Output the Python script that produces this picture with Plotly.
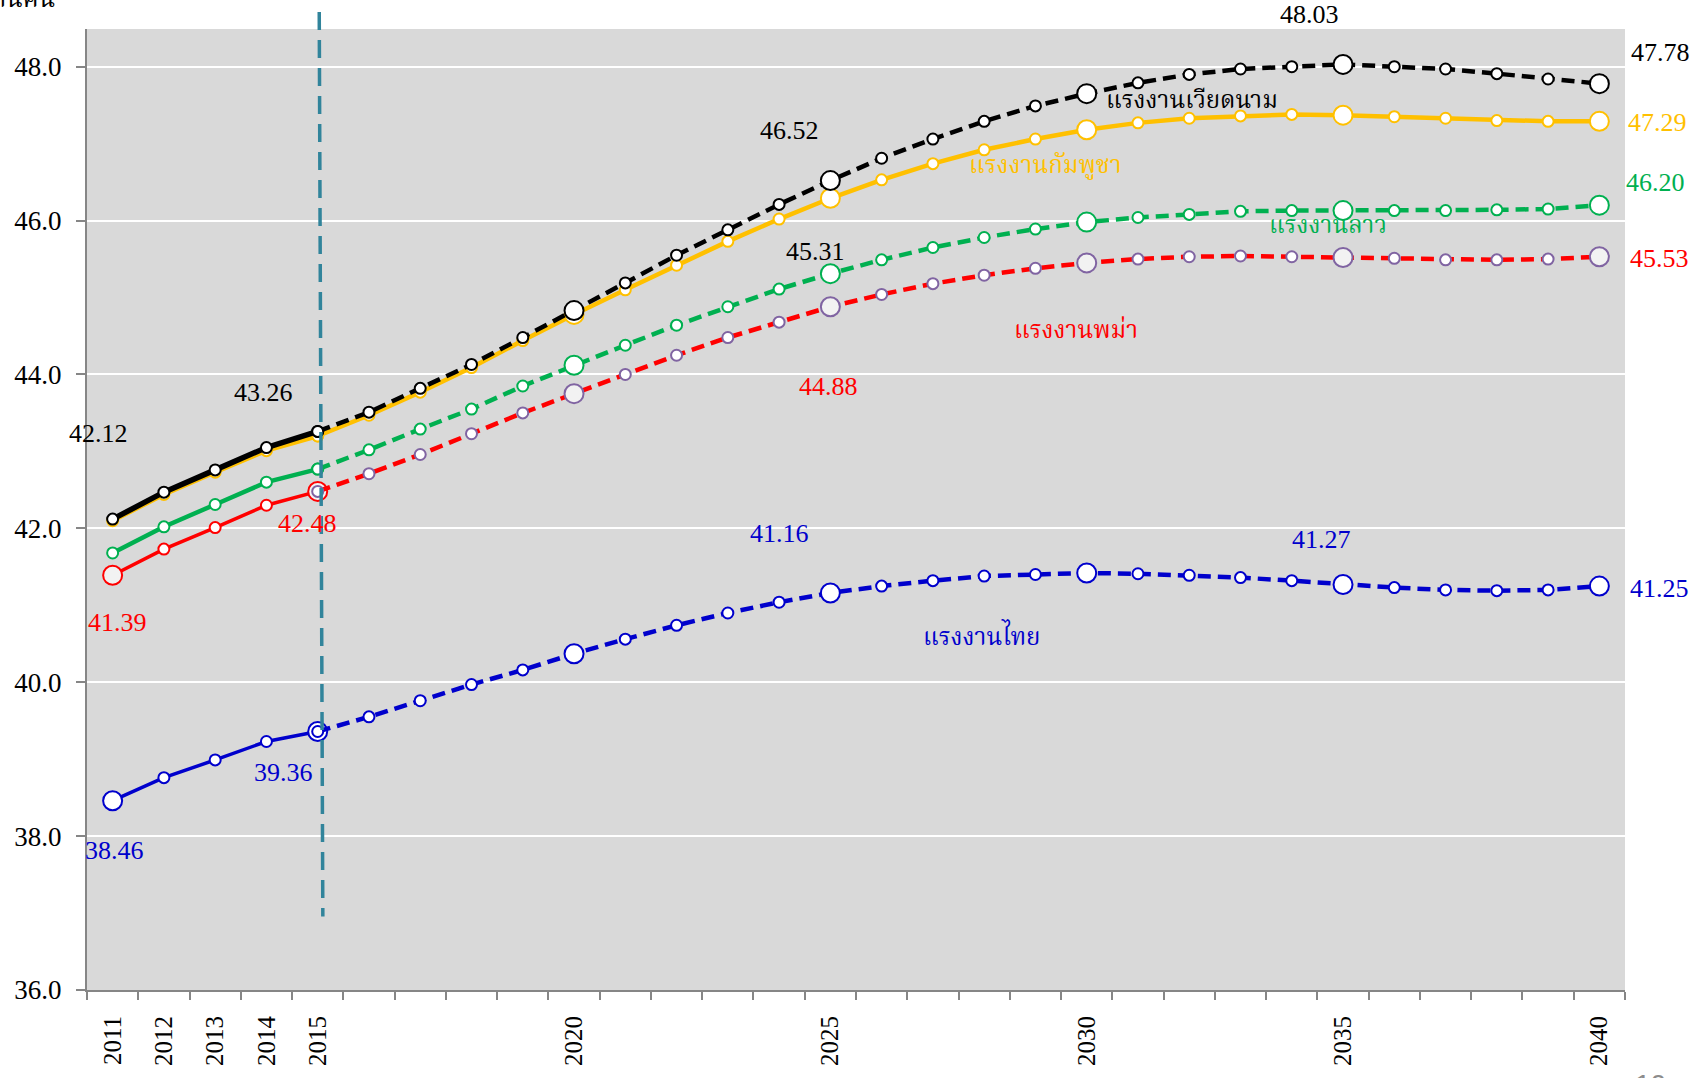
import plotly.graph_objects as go

# ---------------- data ----------------
years = list(range(2011, 2041))
year_ticks = [2011, 2012, 2013, 2014, 2015, 2020, 2025, 2030, 2035, 2040]
base_year = 2015

vietnam = [42.12, 42.47, 42.76, 43.05, 43.26, 43.51, 43.82, 44.13, 44.48, 44.83,
           45.19, 45.55, 45.88, 46.21, 46.52, 46.81, 47.06, 47.29, 47.49, 47.65,
           47.79, 47.90, 47.97, 48.00, 48.03, 48.00, 47.97, 47.91, 47.84, 47.78]
cambodia = [42.10, 42.44, 42.73, 43.01, 43.20, 43.47, 43.77, 44.09, 44.44, 44.78,
            45.10, 45.42, 45.73, 46.02, 46.29, 46.53, 46.74, 46.92, 47.06, 47.18,
            47.27, 47.33, 47.36, 47.38, 47.37, 47.35, 47.33, 47.30, 47.29, 47.29]
lao = [41.68, 42.02, 42.31, 42.60, 42.77, 43.02, 43.29, 43.55, 43.85, 44.12,
       44.38, 44.64, 44.88, 45.11, 45.31, 45.49, 45.65, 45.78, 45.89, 45.98,
       46.04, 46.08, 46.12, 46.13, 46.13, 46.13, 46.13, 46.14, 46.15, 46.20]
myanmar = [41.39, 41.73, 42.01, 42.30, 42.48, 42.71, 42.96, 43.23, 43.50, 43.75,
           44.00, 44.25, 44.48, 44.68, 44.88, 45.04, 45.18, 45.29, 45.38, 45.45,
           45.50, 45.53, 45.54, 45.53, 45.52, 45.51, 45.49, 45.49, 45.50, 45.53]
thai = [38.46, 38.76, 38.99, 39.23, 39.36, 39.55, 39.76, 39.97, 40.16, 40.37,
        40.56, 40.74, 40.90, 41.04, 41.16, 41.25, 41.32, 41.38, 41.40, 41.42,
        41.41, 41.39, 41.36, 41.32, 41.27, 41.23, 41.20, 41.19, 41.20, 41.25]

name_vietnam = "แรงงานเวียดนาม"
name_cambodia = "แรงงานกัมพูชา"
name_lao = "แรงงานลาว"
name_myanmar = "แรงงานพม่า"
name_thai = "แรงงานไทย"
unit_label = "ล้านคน"
page_number = "10"

# ---------------- style ----------------
SERIF = "Liberation Serif, Times New Roman, Noto Serif Thai, Noto Sans Thai, Tlwg Typo, serif"
C_BLACK = "#000000"
C_YELLOW = "#FFC000"
C_GREEN = "#00B050"
C_RED = "#FF0000"
C_BLUE = "#0000CC"
C_PURPLE = "#8064A2"
C_VLINE = "#31849B"
BIG, SMALL = 19, 11

fig = go.Figure()


def add_series(vals, color, big_hist, big_fc, fc_dash="13px,7px",
               fc_mk_color=None, fill_big="#FFFFFF", hist_width=4.5, fc_width=4.5):
    fc_mk_color = fc_mk_color or color
    bi = years.index(base_year)
    hx, hy = years[:bi + 1], vals[:bi + 1]
    fx, fy = years[bi:], vals[bi:]
    fig.add_trace(go.Scatter(
        x=hx, y=hy, mode="lines+markers", showlegend=False, hoverinfo="skip",
        line=dict(color=color, width=hist_width),
        marker=dict(size=[BIG if y in big_hist else SMALL for y in hx],
                    color=[fill_big if y in big_hist else "#FFFFFF" for y in hx],
                    opacity=1, line=dict(color=color, width=2))))
    fig.add_trace(go.Scatter(
        x=fx, y=fy, mode="lines+markers", showlegend=False, hoverinfo="skip",
        line=dict(color=color, width=fc_width, dash=fc_dash),
        marker=dict(size=[BIG if y in big_fc else SMALL for y in fx],
                    color=[fill_big if y in big_fc else "#FFFFFF" for y in fx],
                    opacity=1, line=dict(color=fc_mk_color, width=2))))


add_series(thai, C_BLUE, {2011, 2015}, {2020, 2025, 2030, 2035, 2040}, hist_width=3.5)
add_series(myanmar, C_RED, {2011, 2015}, {2020, 2025, 2030, 2035, 2040},
           fc_mk_color=C_PURPLE, fill_big="#F2F2F2", hist_width=3.5)
add_series(lao, C_GREEN, set(), {2020, 2025, 2030, 2035, 2040})
add_series(cambodia, C_YELLOW, set(), {2020, 2025, 2030, 2035, 2040}, fc_dash="solid")
add_series(vietnam, C_BLACK, set(), {2020, 2025, 2030, 2035, 2040}, hist_width=5.5)

# ---------------- value labels ----------------
label_specs = [
    (vietnam, 2011, -14, 86, C_BLACK),
    (vietnam, 2015, -54, 39, C_BLACK),
    (vietnam, 2025, -41, 50, C_BLACK),
    (vietnam, 2035, -34, 50, C_BLACK),
    (vietnam, 2040, 61, 31, C_BLACK),
    (cambodia, 2040, 58, -1, C_YELLOW),
    (lao, 2025, -15, 22, C_BLACK),
    (lao, 2040, 56, 23, C_GREEN),
    (myanmar, 2011, 5, -47, C_RED),
    (myanmar, 2015, -10, -32, C_RED),
    (myanmar, 2025, -2, -80, C_RED),
    (myanmar, 2040, 60, -2, C_RED),
    (thai, 2011, 2, -50, C_BLUE),
    (thai, 2015, -34, -41, C_BLUE),
    (thai, 2025, -51, 59, C_BLUE),
    (thai, 2035, -22, 45, C_BLUE),
    (thai, 2040, 60, -2, C_BLUE),
]
for vals, yr, dx, dy, col in label_specs:
    v = vals[years.index(yr)]
    fig.add_annotation(x=yr, y=v, xref="x", yref="y", text=f"{v:.2f}",
                       showarrow=False, xshift=dx, yshift=dy,
                       font=dict(family=SERIF, size=26, color=col))

# ---------------- series name labels ----------------
name_specs = [
    (name_vietnam, 2032.05, 47.57, C_BLACK),
    (name_cambodia, 2029.2, 46.71, C_YELLOW),
    (name_lao, 2034.7, 45.94, C_GREEN),
    (name_myanmar, 2029.8, 44.58, C_RED),
    (name_thai, 2027.95, 40.62, C_BLUE),
]
for txt, x, y, col in name_specs:
    fig.add_annotation(x=x, y=y, xref="x", yref="y", text=txt, showarrow=False,
                       font=dict(family=SERIF, size=24, color=col))

# unit label (cropped at top) and page number
fig.add_annotation(x=0.0, y=1.032, xref="paper", yref="paper", text=unit_label,
                   showarrow=False, xanchor="right", yanchor="middle", xshift=-30,
                   font=dict(family=SERIF, size=25, color="#000000"))
fig.add_annotation(x=1.0, y=-0.08, xref="paper", yref="paper", text=page_number,
                   showarrow=False, xanchor="left", yanchor="top", xshift=8,
                   font=dict(family="Liberation Sans, Arial, sans-serif", size=28, color="#8C8C8C"))

# vertical forecast divider
fig.add_shape(type="line", xref="x", yref="paper",
              x0=base_year + 0.03, x1=base_year + 0.10, y0=1.0176, y1=0.0764,
              line=dict(color=C_VLINE, width=3.5, dash="18px,10px"), layer="above")

fig.update_layout(
    width=1707, height=1078,
    margin=dict(l=87, r=82, t=29, b=81),
    paper_bgcolor="#FFFFFF", plot_bgcolor="#D9D9D9",
    font=dict(family=SERIF, size=26, color="#000000"),
    showlegend=False,
)
fig.update_xaxes(
    range=[years[0] - 0.5, years[-1] + 0.5],
    tickmode="array", tickvals=year_ticks, ticktext=[str(y) for y in year_ticks],
    tickangle=-90, ticks="", showgrid=False, zeroline=False,
    showline=True, linecolor="#868686", linewidth=2,
    ticklabelstandoff=14,
    tickfont=dict(family=SERIF, size=25, color="#000000"),
    minor=dict(tickmode="array", tickvals=[y - 0.5 for y in years] + [years[-1] + 0.5],
               ticks="outside", ticklen=8, tickwidth=1.5, tickcolor="#868686", showgrid=False),
)
fig.update_yaxes(
    range=[36, 48.49], dtick=2, tick0=36, tickformat=".1f",
    showgrid=True, gridcolor="#FFFFFF", gridwidth=2, zeroline=False,
    showline=True, linecolor="#868686", linewidth=2,
    ticks="outside", ticklen=9, tickcolor="#868686", tickwidth=1.5,
    ticklabelstandoff=9,
    tickfont=dict(family=SERIF, size=27, color="#000000"),
)

fig.write_html("out.html", config={"displayModeBar": False},
               post_script="document.body.style.margin='0';document.body.style.overflow='hidden';")
